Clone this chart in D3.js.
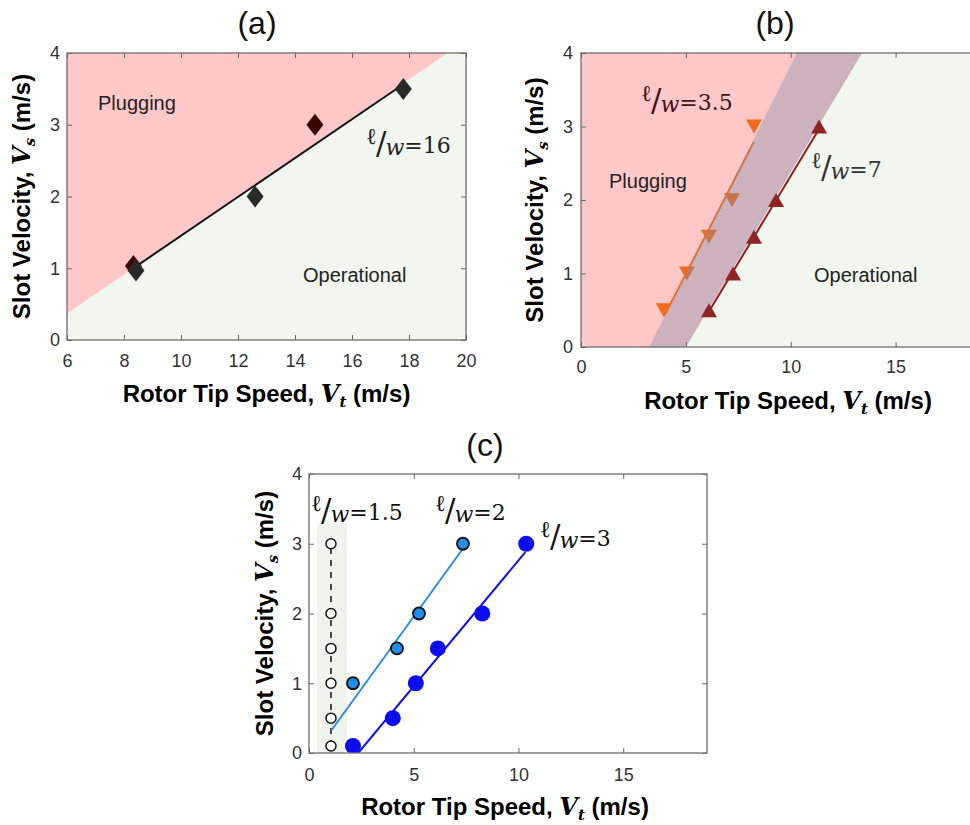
<!DOCTYPE html>
<html>
<head>
<meta charset="utf-8">
<script src="https://cdn.jsdelivr.net/npm/d3@7"></script>
<style>
  body { margin: 0; background: #fff; }
  svg text { font-family: "Liberation Sans", Arial, sans-serif; }
  .tick text { fill: #333; font-size: 18px; }
  .tick line { stroke: #666; }
</style>
</head>
<body>
<svg id="fig" width="970" height="825"></svg>
<script>
// tick values
const yTicks = [0, 1, 2, 3, 4];
const xTicksA = [6, 8, 10, 12, 14, 16, 18, 20];
const xTicksBC = [0, 5, 10, 15];

// (a)  l/w = 16   [Vt, Vs]
const lw16Maroon = [[8.33, 1.03], [14.7, 3.0]];
const lw16Gray = [[8.42, 0.97], [12.6, 2.0], [17.8, 3.5]];
const lw16Fit = [[8.4, 1.02], [17.75, 3.55]];
const aBoundary = [[6, 0.37], [19.35, 4]];

// (b)  l/w = 3.5 and 7
const lw35Pts = [[3.95, 0.5], [5.05, 1.0], [6.1, 1.5], [7.2, 2.0], [8.25, 3.0]];
const lw35Fit = [[4.0, 0.44], [8.24, 2.79]];
const lw7Pts = [[6.1, 0.5], [7.25, 1.0], [8.25, 1.5], [9.3, 2.0], [11.35, 3.0]];
const lw7Fit = [[6.2, 0.53], [11.38, 2.98]];
const bBand = [[3.25, 0], [10.3, 4], [13.4, 4], [5.0, 0]];

// (c)  l/w = 1.5, 2, 3
const lw15Pts = [[1.05, 0.1], [1.05, 0.5], [1.05, 1.0], [1.05, 1.5], [1.05, 2.0], [1.05, 3.0]];
const lw2Pts = [[2.1, 1.0], [4.2, 1.5], [5.25, 2.0], [7.35, 3.0]];
const lw2Fit = [[1.08, 0.33], [7.3, 2.91]];
const lw3Pts = [[2.1, 0.1], [4.0, 0.5], [5.1, 1.0], [6.15, 1.5], [8.27, 2.0], [10.37, 3.0]];
const lw3Fit = [[2.35, 0], [10.33, 2.88]];
const cZone = [[0.38, 0], [1.81, 3.28]];

const svg = d3.select("#fig");

function makePanel(id, xDomain, left, right, top, bottom) {
  const x = d3.scaleLinear().domain(xDomain).range([left, right]);
  const y = d3.scaleLinear().domain([0, 4]).range([bottom, top]);
  svg.append("clipPath").attr("id", "clip-" + id)
    .append("rect").attr("x", left).attr("y", top)
    .attr("width", right - left).attr("height", bottom - top);
  const g = svg.append("g");
  const plot = g.append("g").attr("clip-path", `url(#clip-${id})`);
  const line = d3.line().x(d => x(d[0])).y(d => y(d[1]));
  return { x, y, g, plot, line, left, right, top, bottom };
}

function addAxes(p, xTicks, padX, padY) {
  const fmt = d => d;
  p.g.append("g").attr("transform", `translate(0,${p.bottom})`)
    .call(d3.axisBottom(p.x).tickValues(xTicks).tickFormat(fmt).tickSizeInner(-5).tickSizeOuter(0).tickPadding(padX))
    .call(a => a.select(".domain").remove());
  p.g.append("g").attr("transform", `translate(0,${p.top})`)
    .call(d3.axisTop(p.x).tickValues(xTicks).tickSizeInner(-5).tickSizeOuter(0).tickFormat(""))
    .call(a => a.select(".domain").remove());
  p.g.append("g").attr("transform", `translate(${p.left},0)`)
    .call(d3.axisLeft(p.y).tickValues(yTicks).tickFormat(fmt).tickSizeInner(-5).tickSizeOuter(0).tickPadding(padY))
    .call(a => a.select(".domain").remove());
  p.g.append("g").attr("transform", `translate(${p.right},0)`)
    .call(d3.axisRight(p.y).tickValues(yTicks).tickSizeInner(-5).tickSizeOuter(0).tickFormat(""))
    .call(a => a.select(".domain").remove());
  p.g.append("rect")
    .attr("x", p.left).attr("y", p.top)
    .attr("width", p.right - p.left).attr("height", p.bottom - p.top)
    .attr("fill", "none").attr("stroke", "#6e6e6e").attr("stroke-width", 1.3);
}

function axisLabels(p, yLabX, xLabY) {
  const size = 24;
  const cx = (p.left + Math.min(p.right, 970)) / 2;
  function fill(t, word, v, sub) {
    t.append("tspan").text(word + ", ");
    t.append("tspan").style("font-family", "DejaVu Serif").attr("font-style", "italic").text(v);
    t.append("tspan").style("font-family", "DejaVu Serif").attr("font-style", "italic")
      .attr("font-size", size * 0.62).attr("dy", 5).text(sub);
    t.append("tspan").attr("dy", -5).text(" (m/s)");
  }
  const xt = p.g.append("text").attr("x", p.xLabelX || cx).attr("y", xLabY)
    .attr("text-anchor", "middle").attr("font-weight", "bold").attr("font-size", size).attr("fill", "#000");
  fill(xt, "Rotor Tip Speed", "V", "t");
  const yt = p.g.append("text")
    .attr("transform", `translate(${yLabX},${(p.top + p.bottom) / 2}) rotate(-90)`)
    .attr("dy", "0.35em")
    .attr("text-anchor", "middle").attr("font-weight", "bold").attr("font-size", size).attr("fill", "#000");
  fill(yt, "Slot Velocity", "V", "s");
}

function title(txt, cx, base) {
  svg.append("text").attr("x", cx).attr("y", base).attr("text-anchor", "middle")
    .attr("font-size", 32).attr("fill", "#111").text(txt);
}

function lwLabel(g, x, y, value, color) {
  const t = g.append("text").attr("x", x).attr("y", y)
    .style("font-family", "'DejaVu Serif', serif").attr("fill", color).attr("font-size", 22);
  t.append("tspan").attr("font-size", 23).attr("dy", -9).text("ℓ");
  t.append("tspan").attr("font-size", 31).attr("dy", 10).attr("dx", -1).text("/");
  t.append("tspan").attr("font-style", "italic").attr("dy", 1).attr("dx", -1).text("w");
  t.append("tspan").attr("dy", -2).text("=" + value);
}

function regionText(g, x, y, txt) {
  g.append("text").attr("x", x).attr("y", y).attr("font-size", 20).attr("fill", "#222").text(txt);
}

const PINK = "#fec8c8", GREEN = "#f1f6ef";

// ---------- (a) ----------
const pa = makePanel("a", [6, 20], 67, 466, 53, 340);
pa.plot.append("rect").attr("x", pa.left).attr("y", pa.top)
  .attr("width", pa.right - pa.left).attr("height", pa.bottom - pa.top).attr("fill", GREEN);
pa.plot.append("path")
  .attr("d", pa.line([[6, 4], aBoundary[0], aBoundary[1]]) + "Z")
  .attr("fill", PINK);
pa.plot.append("path").attr("d", pa.line(lw16Fit)).attr("stroke", "#111").attr("stroke-width", 2).attr("fill", "none");

const diamond = d3.line()([[0, -11], [8.5, 0], [0, 11], [-8.5, 0]]) + "Z";
pa.plot.selectAll(".dm").data(lw16Maroon).join("path")
  .attr("transform", d => `translate(${pa.x(d[0])},${pa.y(d[1])})`)
  .attr("d", diamond).attr("fill", "#3a0606");
pa.plot.selectAll(".dg").data(lw16Gray).join("path")
  .attr("transform", d => `translate(${pa.x(d[0])},${pa.y(d[1])})`)
  .attr("d", diamond).attr("fill", "#262b26");
regionText(pa.g, 98, 110, "Plugging");
regionText(pa.g, 303, 282, "Operational");
lwLabel(pa.g, 366, 153, "16", "#222");
addAxes(pa, xTicksA, 14, 7);
axisLabels(pa, 22, 402);
title("(a)", 257, 34);

// ---------- (b) ----------
const pb = makePanel("b", [0, 19], 581, 979.5, 53, 347);
pb.plot.append("rect").attr("x", pb.left).attr("y", pb.top)
  .attr("width", pb.right - pb.left).attr("height", pb.bottom - pb.top).attr("fill", GREEN);
pb.plot.append("path")
  .attr("d", pb.line([[0, 0], bBand[3], bBand[2], [0, 4]]) + "Z")
  .attr("fill", PINK);
pb.plot.append("path").attr("d", pb.line(lw35Fit)).attr("stroke", "#f07020").attr("stroke-width", 2).attr("fill", "none");
const triDown = d3.line()([[-8, -7], [8, -7], [0, 7]]) + "Z";
const triUp = d3.line()([[-8, 7], [8, 7], [0, -7]]) + "Z";
pb.plot.selectAll(".t35").data(lw35Pts).join("path")
  .attr("transform", d => `translate(${pb.x(d[0])},${pb.y(d[1])})`)
  .attr("d", triDown).attr("fill", "#f26b1d");
pb.plot.append("path")
  .attr("d", pb.line(bBand) + "Z")
  .attr("fill", "rgb(125,140,168)").attr("fill-opacity", 0.38);
pb.plot.append("path").attr("d", pb.line(lw7Fit)).attr("stroke", "#8a1e1e").attr("stroke-width", 2).attr("fill", "none");
pb.plot.selectAll(".t7").data(lw7Pts).join("path")
  .attr("transform", d => `translate(${pb.x(d[0])},${pb.y(d[1])})`)
  .attr("d", triUp).attr("fill", "#8e2424");
regionText(pb.g, 609, 188, "Plugging");
regionText(pb.g, 814, 282, "Operational");
lwLabel(pb.g, 641, 110, "3.5", "#3e1216");
lwLabel(pb.g, 811, 177, "7", "#333");
addAxes(pb, xTicksBC, 13, 8);
pb.xLabelX = 788;
axisLabels(pb, 535, 409);
title("(b)", 775, 34);

// ---------- (c) ----------
const pc = makePanel("c", [0, 19], 309, 707, 474, 753);
pc.plot.append("rect")
  .attr("x", pc.x(cZone[0][0])).attr("y", pc.y(cZone[1][1]))
  .attr("width", pc.x(cZone[1][0]) - pc.x(cZone[0][0]))
  .attr("height", pc.y(cZone[0][1]) - pc.y(cZone[1][1]))
  .attr("fill", "#eef4ec");
pc.plot.append("path").attr("d", pc.line(lw15Pts)).attr("stroke", "#111").attr("stroke-width", 1.5)
  .attr("stroke-dasharray", "6,6").attr("fill", "none");
pc.plot.selectAll(".c15").data(lw15Pts).join("circle")
  .attr("cx", d => pc.x(d[0])).attr("cy", d => pc.y(d[1])).attr("r", 5)
  .attr("fill", "#fff").attr("stroke", "#111").attr("stroke-width", 1.5);
pc.plot.append("path").attr("d", pc.line(lw2Fit)).attr("stroke", "#2a8cf0").attr("stroke-width", 2).attr("fill", "none");
pc.plot.selectAll(".c2").data(lw2Pts).join("circle")
  .attr("cx", d => pc.x(d[0])).attr("cy", d => pc.y(d[1])).attr("r", 6)
  .attr("fill", "#1f8ef0").attr("stroke", "#111").attr("stroke-width", 1.8);
pc.plot.append("path").attr("d", pc.line(lw3Fit)).attr("stroke", "#1010e8").attr("stroke-width", 2).attr("fill", "none");
pc.plot.selectAll(".c3").data(lw3Pts).join("circle")
  .attr("cx", d => pc.x(d[0])).attr("cy", d => pc.y(d[1])).attr("r", 8)
  .attr("fill", "#0c0cf0");
lwLabel(pc.g, 311, 520, "1.5", "#111");
lwLabel(pc.g, 435, 520, "2", "#111");
lwLabel(pc.g, 540, 546, "3", "#111");
addAxes(pc, xTicksBC, 15, 7);
pc.xLabelX = 505;
axisLabels(pc, 265, 815);
title("(c)", 485, 456);
</script>
</body>
</html>
